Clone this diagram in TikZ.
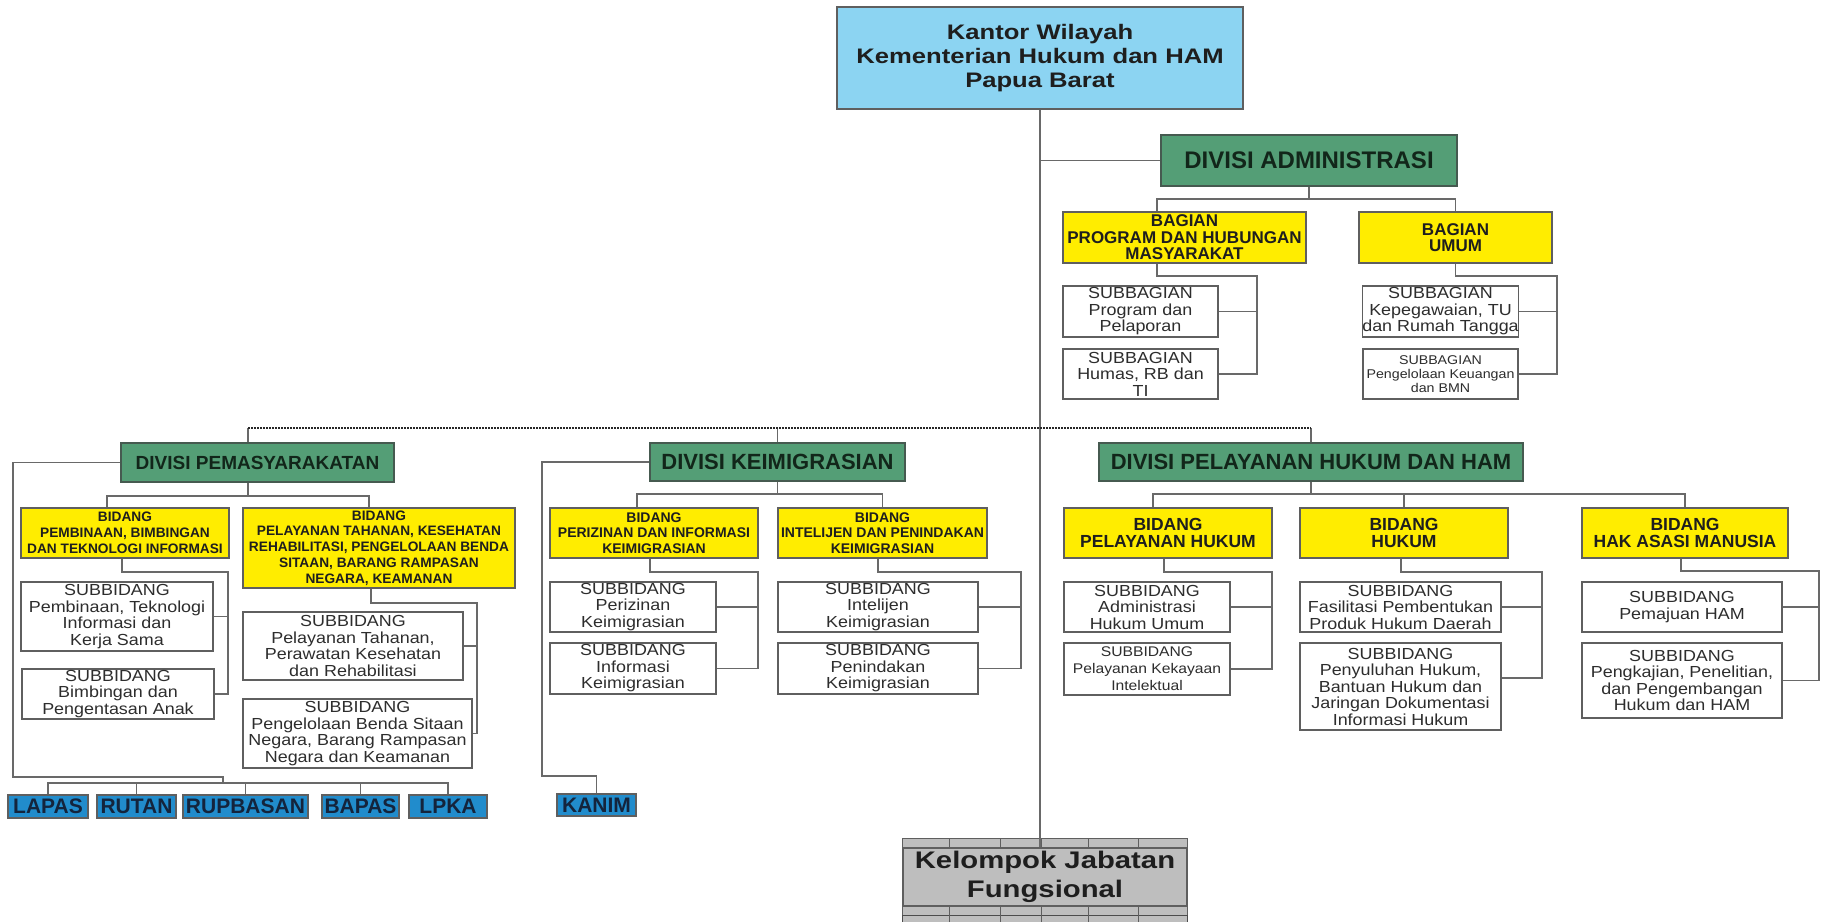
\documentclass[tikz,border=0pt]{standalone}
\usepackage{fontspec}
\setmainfont{Liberation Sans}
\newfontfamily\wsans[FakeStretch=1.12]{Liberation Sans}
\newfontfamily\wwsans[FakeStretch=1.22]{Liberation Sans}
\definecolor{topblue}{RGB}{140,212,242}
\definecolor{divgreen}{RGB}{84,158,118}
\definecolor{divline}{RGB}{70,90,80}
\definecolor{divtxt}{RGB}{18,38,26}
\definecolor{ylw}{RGB}{255,237,0}
\definecolor{unitblue}{RGB}{33,140,204}
\definecolor{unittxt}{RGB}{20,36,60}
\definecolor{kelgray}{RGB}{190,190,190}
\definecolor{boxline}{RGB}{95,95,95}
\definecolor{linkc}{RGB}{105,105,105}
\definecolor{txt}{RGB}{30,30,30}
\definecolor{subtxt}{RGB}{45,45,45}
\begin{document}
\begin{tikzpicture}[x=1pt,y=-1pt,
  box/.style={draw=boxline, line width=1.1pt, inner sep=0pt, align=center, text=txt},
  topbox/.style={box, fill=topblue, font=\wwsans\bfseries\fontsize{21}{24}\selectfont},
  divbox/.style={box, fill=divgreen, draw=divline, text=divtxt, font=\bfseries\fontsize{22}{24}\selectfont},
  bagbox/.style={box, fill=ylw, font=\bfseries\fontsize{17}{16.6}\selectfont},
  bidA/.style={box, fill=ylw, font=\bfseries\fontsize{13.7}{15.8}\selectfont},
  bidB/.style={box, fill=ylw, font=\bfseries\fontsize{14}{15.5}\selectfont},
  bidC/.style={box, fill=ylw, font=\bfseries\fontsize{17.5}{16.7}\selectfont},
  subbox/.style={box, fill=white, text=subtxt, font=\wsans\fontsize{16}{16.5}\selectfont},
  unitbox/.style={box, fill=unitblue, text=unittxt, font=\bfseries\fontsize{21}{22}\selectfont},
  kelbox/.style={box, fill=kelgray, draw=boxline, font=\wwsans\bfseries\fontsize{24}{29}\selectfont},
  kelstrip/.style={fill=kelgray, draw=boxline, line width=1.1pt},
  conn/.style={draw=linkc, line width=1.5pt},
  dashl/.style={draw=black!85, line width=2.5pt, dash pattern=on 2pt off 1pt}
]
\useasboundingbox (0,0) rectangle (1823,921);
\clip (0,0) rectangle (1823,921);
\fill[white] (0,0) rectangle (1823,921);

% ---------- nodes ----------
\node[topbox, minimum width=406, minimum height=102] (top) at (1040,58) {Kantor Wilayah\\Kementerian Hukum dan HAM\\Papua Barat};

\node[divbox, minimum width=296, minimum height=51, font=\bfseries\fontsize{24}{26}\selectfont] (admin) at (1309,160.5) {DIVISI ADMINISTRASI};
\node[bagbox, minimum width=243, minimum height=51] (bprog) at (1184.5,237.5) {BAGIAN\\PROGRAM DAN HUBUNGAN\\MASYARAKAT};
\node[bagbox, minimum width=193, minimum height=51] (bumum) at (1455.5,237.5) {BAGIAN\\UMUM};
\node[subbox, minimum width=155, minimum height=51] (sb1) at (1140.5,311.5) {SUBBAGIAN\\Program dan\\Pelaporan};
\node[subbox, minimum width=155, minimum height=50] (sb2) at (1140.5,374) {SUBBAGIAN\\Humas, RB dan\\TI};
\node[subbox, minimum width=155, minimum height=51] (sb3) at (1440.5,311.5) {SUBBAGIAN\\Kepegawaian, TU\\dan Rumah Tangga};
\node[subbox, minimum width=155, minimum height=50, font=\wsans\fontsize{12.7}{14.2}\selectfont] (sb4) at (1440.5,374) {SUBBAGIAN\\Pengelolaan Keuangan\\dan BMN};

\node[divbox, minimum width=273, minimum height=39, font=\bfseries\fontsize{19}{22}\selectfont] (dpem) at (257.5,462.5) {DIVISI PEMASYARAKATAN};
\node[divbox, minimum width=255, minimum height=38] (dkei) at (777.5,462) {DIVISI KEIMIGRASIAN};
\node[divbox, minimum width=424, minimum height=38] (dpel) at (1311,462) {DIVISI PELAYANAN HUKUM DAN HAM};

\node[bidA, minimum width=208, minimum height=50] (bp1) at (125,533) {BIDANG\\PEMBINAAN, BIMBINGAN\\DAN TEKNOLOGI INFORMASI};
\node[bidA, minimum width=272, minimum height=80] (bp2) at (379,548) {BIDANG\\PELAYANAN TAHANAN, KESEHATAN\\REHABILITASI, PENGELOLAAN BENDA\\SITAAN, BARANG RAMPASAN\\NEGARA, KEAMANAN};
\node[subbox, minimum width=192, minimum height=69] (sp1) at (117,616.5) {SUBBIDANG\\Pembinaan, Teknologi\\Informasi dan\\Kerja Sama};
\node[subbox, minimum width=192, minimum height=50] (sp2) at (118,694) {SUBBIDANG\\Bimbingan dan\\Pengentasan Anak};
\node[subbox, minimum width=220, minimum height=68] (sp3) at (353,646) {SUBBIDANG\\Pelayanan Tahanan,\\Perawatan Kesehatan\\dan Rehabilitasi};
\node[subbox, minimum width=229, minimum height=69] (sp4) at (357.5,733.5) {SUBBIDANG\\Pengelolaan Benda Sitaan\\Negara, Barang Rampasan\\Negara dan Keamanan};

\node[unitbox, minimum width=80, minimum height=23] (lapas) at (48,806.5) {LAPAS};
\node[unitbox, minimum width=79, minimum height=23] (rutan) at (136.5,806.5) {RUTAN};
\node[unitbox, minimum width=125, minimum height=23] (rupbasan) at (245.5,806.5) {RUPBASAN};
\node[unitbox, minimum width=77, minimum height=23] (bapas) at (360.5,806.5) {BAPAS};
\node[unitbox, minimum width=78, minimum height=23] (lpka) at (448,806.5) {LPKA};

\node[bidB, minimum width=208, minimum height=50] (bk1) at (654,533) {BIDANG\\PERIZINAN DAN INFORMASI\\KEIMIGRASIAN};
\node[bidB, minimum width=209, minimum height=50] (bk2) at (882.5,533) {BIDANG\\INTELIJEN DAN PENINDAKAN\\KEIMIGRASIAN};
\node[subbox, minimum width=166, minimum height=50] (sk1) at (633,607) {SUBBIDANG\\Perizinan\\Keimigrasian};
\node[subbox, minimum width=166, minimum height=51] (sk2) at (633,668.5) {SUBBIDANG\\Informasi\\Keimigrasian};
\node[subbox, minimum width=200, minimum height=50] (sk3) at (878,607) {SUBBIDANG\\Intelijen\\Keimigrasian};
\node[subbox, minimum width=200, minimum height=51] (sk4) at (878,668.5) {SUBBIDANG\\Penindakan\\Keimigrasian};
\node[unitbox, minimum width=79, minimum height=22] (kanim) at (596.5,805) {KANIM};

\node[bidC, minimum width=208, minimum height=50] (bh1) at (1168,533) {BIDANG\\PELAYANAN HUKUM};
\node[bidC, minimum width=208, minimum height=50] (bh2) at (1404,533) {BIDANG\\HUKUM};
\node[bidC, minimum width=206, minimum height=50] (bh3) at (1685,533) {BIDANG\\HAK ASASI MANUSIA};
\node[subbox, minimum width=166, minimum height=50] (sh1) at (1147,607) {SUBBIDANG\\Administrasi\\Hukum Umum};
\node[subbox, minimum width=166, minimum height=52, font=\wsans\fontsize{14}{17}\selectfont] (sh2) at (1147,669) {SUBBIDANG\\Pelayanan Kekayaan\\Intelektual};
\node[subbox, minimum width=201, minimum height=50] (sh3) at (1400.5,607) {SUBBIDANG\\Fasilitasi Pembentukan\\Produk Hukum Daerah};
\node[subbox, minimum width=201, minimum height=87] (sh4) at (1400.5,686.5) {SUBBIDANG\\Penyuluhan Hukum,\\Bantuan Hukum dan\\Jaringan Dokumentasi\\Informasi Hukum};
\node[subbox, minimum width=200, minimum height=50] (sh5) at (1682,607) {SUBBIDANG\\Pemajuan HAM};
\node[subbox, minimum width=200, minimum height=75] (sh6) at (1682,680.5) {SUBBIDANG\\Pengkajian, Penelitian,\\dan Pengembangan\\Hukum dan HAM};

\node[kelbox, minimum width=284, minimum height=58] (kel) at (1045,877) {Kelompok Jabatan\\Fungsional};
\draw[kelstrip] ([yshift=9]kel.north west) rectangle (kel.north east);
\draw[kelstrip] (kel.south west) rectangle ([yshift=-9]kel.south east);
\draw[kelstrip, draw=black!70] ([yshift=-9]kel.south west) rectangle ([yshift=-40]kel.south east);
\foreach \dx in {47,98,139,186,236}{
  \draw[boxline, line width=1.1pt] ([xshift=\dx]kel.north west) -- ++(0,-9);
  \draw[boxline, line width=1.1pt] ([xshift=\dx]kel.south west) -- ++(0,40);
}

% ---------- helper coordinates ----------
\coordinate (dashy) at (0,428);
\coordinate (busA) at (0,199);
\coordinate (busP) at (0,496);
\coordinate (busK) at (0,494);
\coordinate (pemT) at ([xshift=-9.5]dpem.north);
\coordinate (pemB) at ([xshift=-9.5]dpem.south);
\coordinate (bprogT) at ([xshift=-27.5]bprog.north);
\coordinate (bprogB) at ([xshift=-27.5]bprog.south);
\coordinate (bp1T) at ([xshift=-18]bp1.north);
\coordinate (bp2T) at ([xshift=-10]bp2.north);
\coordinate (bp1B) at ([xshift=-3]bp1.south);
\coordinate (bp2B) at ([xshift=-8]bp2.south);
\coordinate (bk1T) at ([xshift=-17]bk1.north);
\coordinate (bk1B) at ([xshift=-4]bk1.south);
\coordinate (bk2B) at ([xshift=-4.5]bk2.south);
\coordinate (bh1T) at ([xshift=-15]bh1.north);
\coordinate (bh1B) at ([xshift=-4]bh1.south);
\coordinate (bh2B) at ([xshift=-3]bh2.south);
\coordinate (bh3B) at ([xshift=-4]bh3.south);
\coordinate (sh4E) at ([yshift=8.5]sh4.east);
\coordinate (v1) at (228,572);
\coordinate (v2) at (477,603);
\coordinate (v3) at (758,572);
\coordinate (v4) at (1021,572);
\coordinate (v5) at (1272,572);
\coordinate (v6) at (1542,572);
\coordinate (v7) at (1819,571);
\coordinate (v8) at (1257,276);
\coordinate (v9) at (1557,276);
\coordinate (pL) at (13,777);
\coordinate (pJ) at (223,783);
\coordinate (kL) at (542,776);

% ---------- connectors ----------
\draw[conn] (top.south) -- (top.south |- kel.north);
\draw[conn] (admin.west) -- (admin.west -| top.south);

% administrasi
\draw[conn] (admin.south) -- (admin.south |- busA);
\draw[conn] (bprogT) |- (bumum.north |- busA) -- (bumum.north);
\draw[conn] (bprogB) |- (v8) -- (v8 |- sb2.east) -- (sb2.east);
\draw[conn] (sb1.east) -- (sb1.east -| v8);
\draw[conn] (bumum.south) |- (v9) -- (v9 |- sb4.east) -- (sb4.east);
\draw[conn] (sb3.east) -- (sb3.east -| v9);

% division verticals and dashed line
\draw[conn] (pemT |- dashy) -- (pemT);
\draw[conn] (dkei.north |- dashy) -- (dkei.north);
\draw[conn] (dpel.north |- dashy) -- (dpel.north);
\draw[dashl] (pemT |- dashy) -- (dpel.north |- dashy);

% pemasyarakatan
\draw[conn] (pemB) -- (pemB |- busP);
\draw[conn] (bp1T) |- (bp2T |- busP) -- (bp2T);
\draw[conn] (bp1B) |- (v1) -- (v1 |- sp2.east) -- (sp2.east);
\draw[conn] (sp1.east) -- (sp1.east -| v1);
\draw[conn] (bp2B) |- (v2) -- (v2 |- sp4.east) -- (sp4.east);
\draw[conn] (sp3.east) -- (sp3.east -| v2);
\draw[conn] (dpem.west) -| (pL) -- (pL -| pJ) -- (pJ);
\draw[conn] (lapas.north) |- (lpka.north |- pJ) -- (lpka.north);
\draw[conn] (rutan.north) -- (rutan.north |- pJ);
\draw[conn] (rupbasan.north) -- (rupbasan.north |- pJ);
\draw[conn] (bapas.north) -- (bapas.north |- pJ);

% keimigrasian
\draw[conn] (dkei.south) -- (dkei.south |- busK);
\draw[conn] (bk1T) |- (bk2.north |- busK) -- (bk2.north);
\draw[conn] (bk1B) |- (v3) -- (v3 |- sk2.east) -- (sk2.east);
\draw[conn] (sk1.east) -- (sk1.east -| v3);
\draw[conn] (bk2B) |- (v4) -- (v4 |- sk4.east) -- (sk4.east);
\draw[conn] (sk3.east) -- (sk3.east -| v4);
\draw[conn] (dkei.west) -| (kL) -- (kL -| kanim.north) -- (kanim.north);

% pelayanan hukum
\draw[conn] (dpel.south) -- (dpel.south |- busK);
\draw[conn] (bh1T) |- (bh3.north |- busK) -- (bh3.north);
\draw[conn] (bh2.north) -- (bh2.north |- busK);
\draw[conn] (bh1B) |- (v5) -- (v5 |- sh2.east) -- (sh2.east);
\draw[conn] (sh1.east) -- (sh1.east -| v5);
\draw[conn] (bh2B) |- (v6) -- (v6 |- sh4E) -- (sh4E);
\draw[conn] (sh3.east) -- (sh3.east -| v6);
\draw[conn] (bh3B) |- (v7) -- (v7 |- sh6.east) -- (sh6.east);
\draw[conn] (sh5.east) -- (sh5.east -| v7);
\end{tikzpicture}
\end{document}
